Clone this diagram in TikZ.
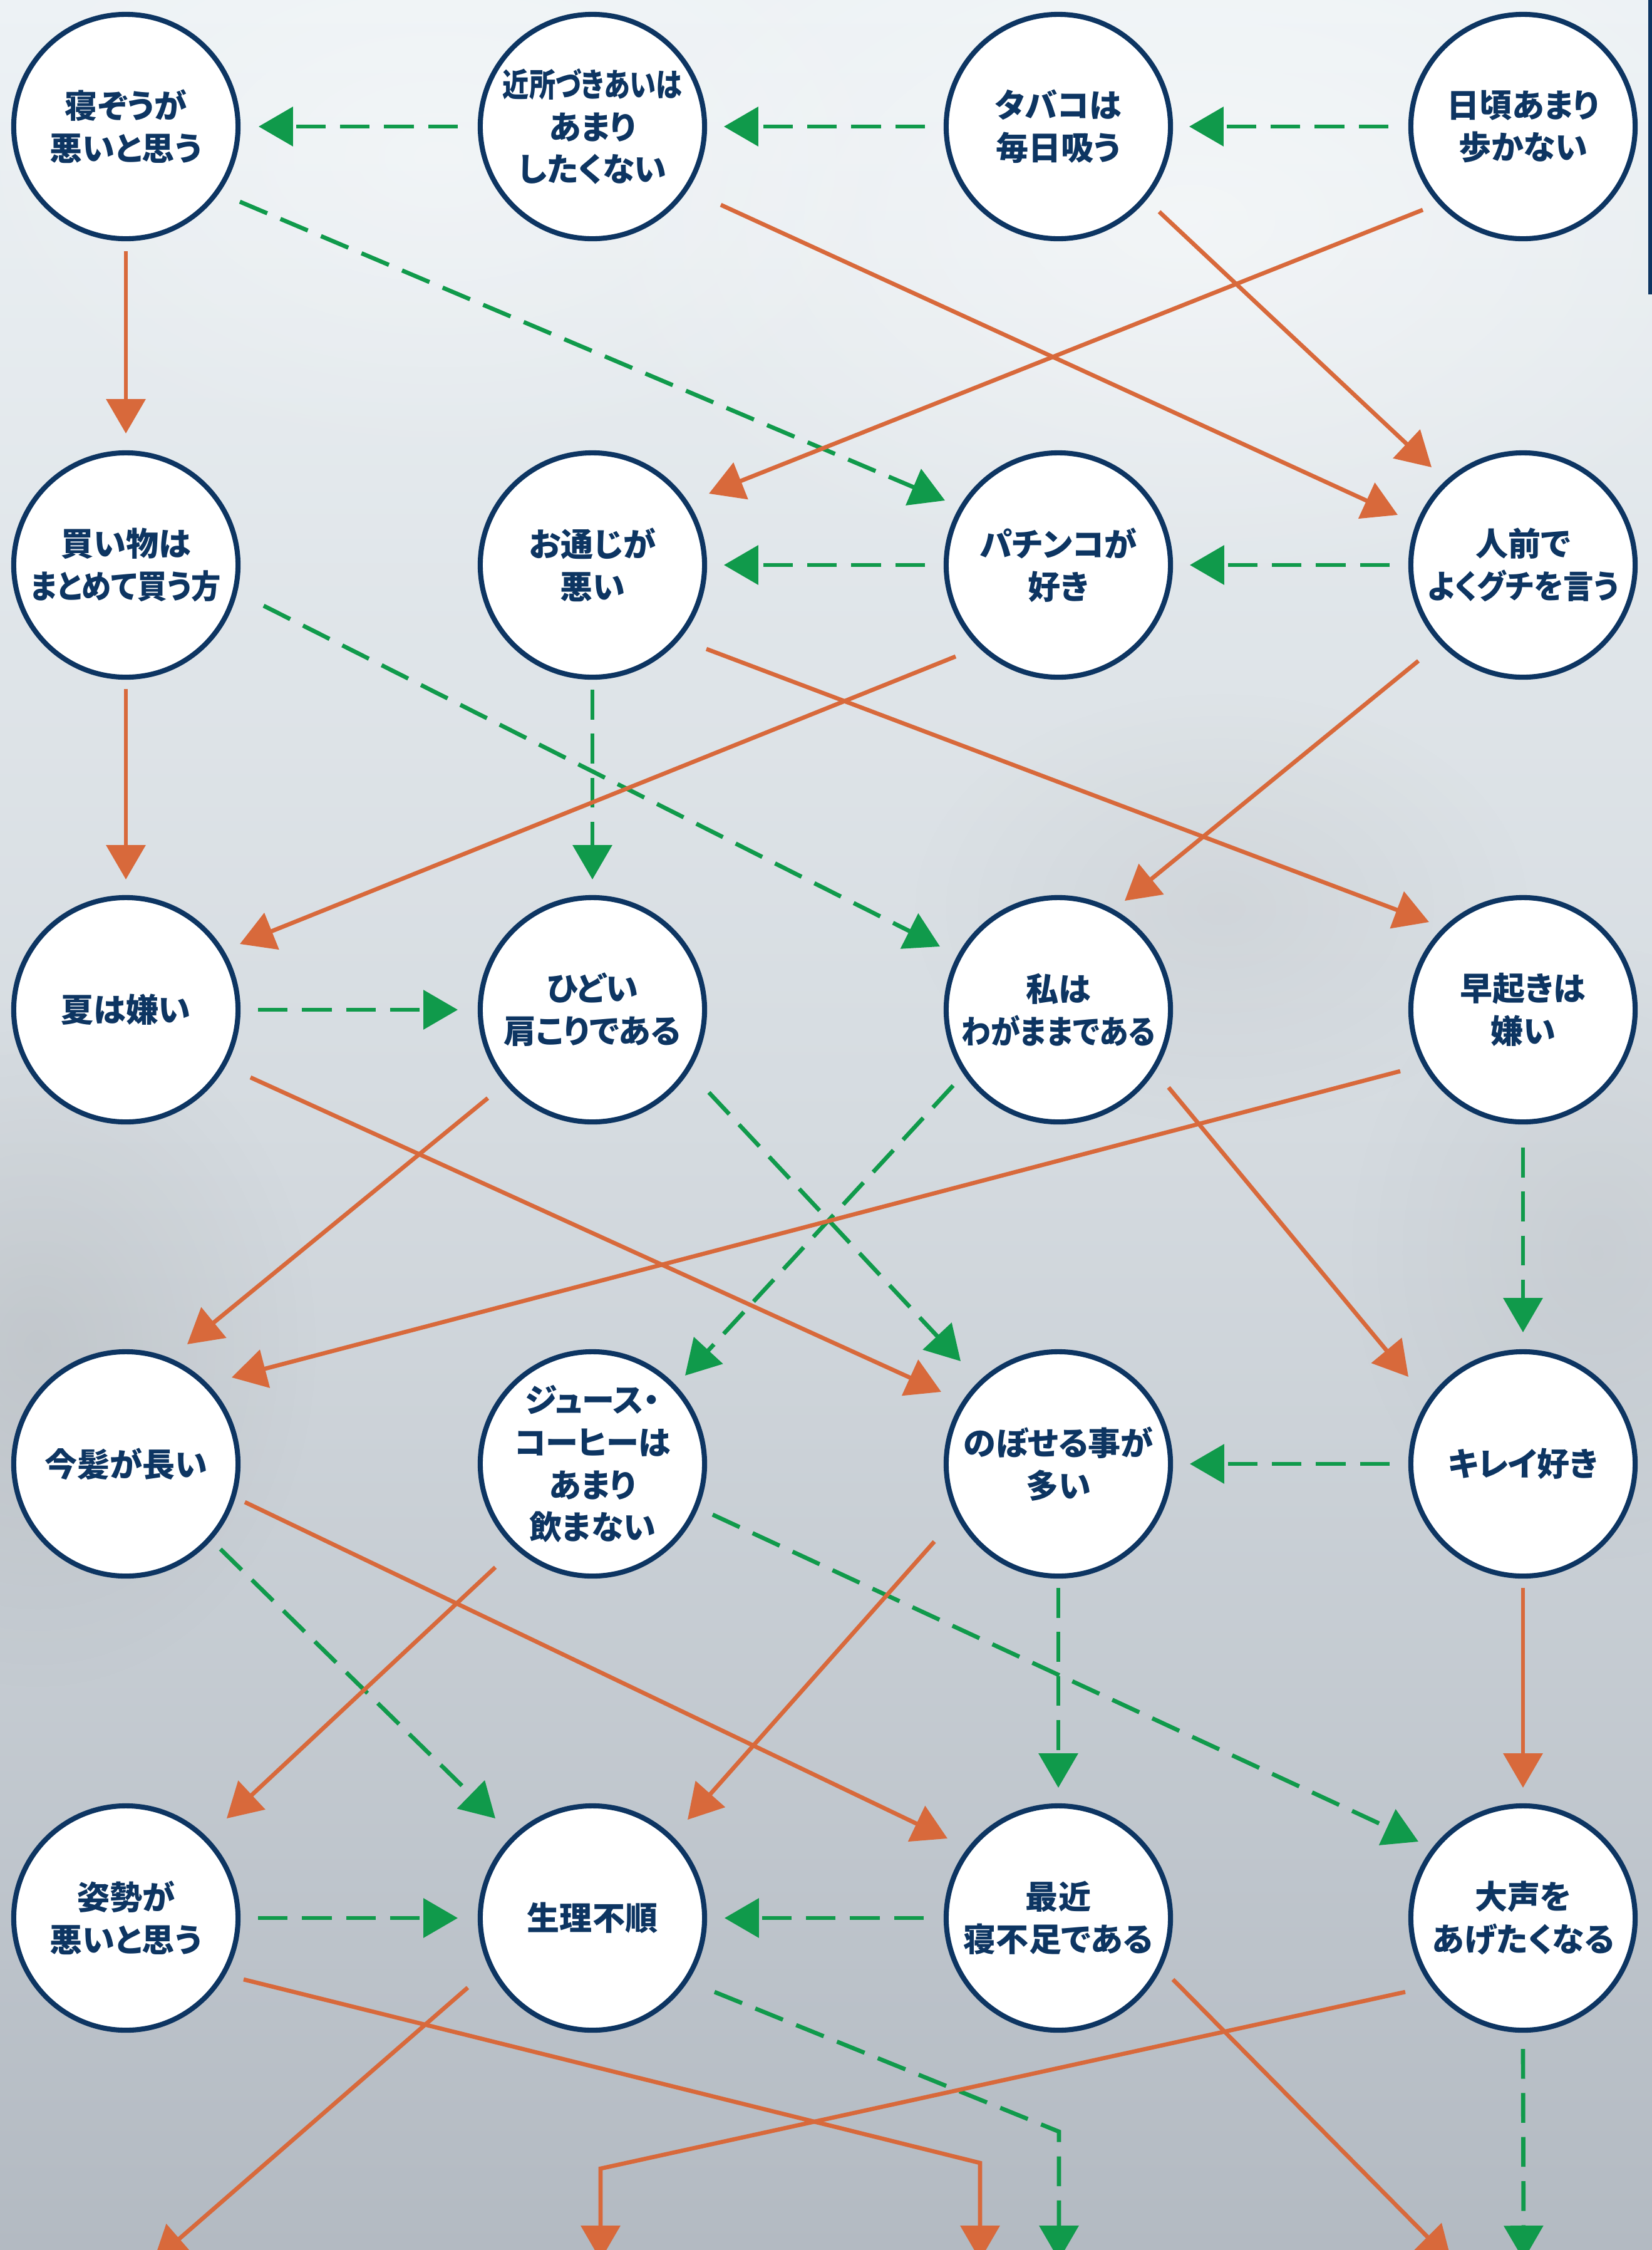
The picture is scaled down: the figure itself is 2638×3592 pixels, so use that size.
\documentclass[tikz,border=0pt]{standalone}
\usepackage{fontspec}
\usepackage{graphicx}
\newfontfamily\jp{Noto Sans CJK JP}[RawFeature=+palt]
\usetikzlibrary{arrows.meta,calc,fadings}
\definecolor{navy}{HTML}{0D3562}
\definecolor{oline}{HTML}{D8693B}
\definecolor{gline}{HTML}{109A4B}
\definecolor{bgtop}{HTML}{EDF2F5}
\definecolor{bgmid}{HTML}{D5DBE0}
\definecolor{bgbot}{HTML}{B3BAC2}
\newcommand{\sqz}[2]{\scalebox{#1}[1]{#2}}
\tikzfading[name=softspot, inner color=transparent!0, outer color=transparent!100]
\begin{document}
\begin{tikzpicture}[x=0.01cm,y=-0.01cm,
  stnode/.style={circle, draw=navy, line width=2.3pt, fill=white, minimum size=3.58cm, inner sep=0pt, align=center, text=navy, font=\jp\bfseries\fontsize{14.8pt}{19.3pt}\selectfont},
  oarrow/.style={draw=oline, line width=1.9pt, -{Triangle[length=15.6pt,width=17.6pt]}},
  garrow/.style={draw=gline, line width=1.9pt, dash pattern=on 13.5pt off 6.5pt, -{Triangle[length=15.6pt,width=17.6pt]}},
  blob/.style={path fading=softspot},
]
\useasboundingbox (0,0) rectangle (2638,3592);
\clip (0,0) rectangle (2638,3592);
\shade[top color=bgtop, bottom color=bgbot, middle color=bgmid] (0,0) rectangle (2638,3592);
% soft cloud patches
\fill[white, opacity=0.45, blob] (1900,350) ellipse (1000 and 600);
\fill[white, opacity=0.35, blob] (700,250) ellipse (800 and 500);
\fill[black!60, opacity=0.12, blob] (60,2150) ellipse (450 and 550);
\fill[black!60, opacity=0.08, blob] (1950,1450) ellipse (500 and 350);
\fill[black!60, opacity=0.08, blob] (2550,2000) ellipse (400 and 500);
\fill[navy] (2632,0) rectangle (2638,470);

% nodes
\node[stnode] (A1) at (201,202) {寝ぞうが\\悪いと思う};
\node[stnode] (A2) at (946,202) {\sqz{0.81}{近所づきあいは}\\あまり\\したくない};
\node[stnode] (A3) at (1690,202) {タバコは\\毎日吸う};
\node[stnode] (A4) at (2432,202) {日頃あまり\\歩かない};
\node[stnode] (B1) at (201,902) {買い物は\\\sqz{0.91}{まとめて買う方}};
\node[stnode] (B2) at (946,902) {お通じが\\悪い};
\node[stnode] (B3) at (1690,902) {パチンコが\\好き};
\node[stnode] (B4) at (2432,902) {人前で\\\sqz{0.93}{よくグチを言う}};
\node[stnode] (C1) at (201,1612) {夏は嫌い};
\node[stnode] (C2) at (946,1612) {ひどい\\肩こりである};
\node[stnode] (C3) at (1690,1612) {私は\\\sqz{0.9}{わがままである}};
\node[stnode] (C4) at (2432,1612) {早起きは\\嫌い};
\node[stnode] (D1) at (201,2337) {今髪が長い};
\node[stnode] (D2) at (946,2337) {ジュース・\\コーヒーは\\あまり\\飲まない};
\node[stnode] (D3) at (1690,2337) {のぼせる事が\\多い};
\node[stnode] (D4) at (2432,2337) {キレイ好き};
\node[stnode] (E1) at (201,3062) {姿勢が\\悪いと思う};
\node[stnode] (E2) at (946,3062) {生理不順};
\node[stnode] (E3) at (1690,3062) {最近\\寝不足である};
\node[stnode] (E4) at (2432,3062) {大声を\\あげたくなる};

% free ends at the bottom edge
\coordinate (k1) at (1565,3453);
\coordinate (f1) at (1565,3608);
\coordinate (f2) at (245,3610);
\coordinate (k3) at (1691,3403);
\coordinate (f3) at (1691,3608);
\coordinate (f4) at (2318,3610);
\coordinate (k5) at (959,3462);
\coordinate (f5) at (959,3608);
\coordinate (f6) at (2433,3608);

% green dashed horizontal
\draw[garrow] ($(A2)+(-215,0)$) -- ($(A1)+(212,0)$);
\draw[garrow] ($(A3)+(-213,0)$) -- ($(A2)+(210,0)$);
\draw[garrow] ($(A4)+(-215,0)$) -- ($(A3)+(209,0)$);
\draw[garrow] ($(B3)+(-213,0)$) -- ($(B2)+(210,0)$);
\draw[garrow] ($(B4)+(-213,0)$) -- ($(B3)+(210,0)$);
\draw[garrow] ($(C1)+(211,0)$) -- ($(C2)+(-215,0)$);
\draw[garrow] ($(D4)+(-213,0)$) -- ($(D3)+(210,0)$);
\draw[garrow] ($(E1)+(211,0)$) -- ($(E2)+(-215,0)$);
\draw[garrow] ($(E3)+(-215,0)$) -- ($(E2)+(211,0)$);
% green dashed vertical
\draw[garrow] ($(B2)+(0,199)$) -- ($(C2)+(0,-208)$);
\draw[garrow] ($(C4)+(0,220)$) -- ($(D4)+(0,-210)$);
\draw[garrow] ($(D3)+(0,198)$) -- ($(E3)+(0,-208)$);
\draw[garrow] ($(E4)+(0,209)$) -- (f6);
% green dashed diagonal
\draw[garrow] ($(A1)+(182,120)$) -- ($(B3)+(-181,-103)$);
\draw[garrow] ($(B1)+(220,65)$) -- ($(C3)+(-189,-101)$);
\draw[garrow] ($(C2)+(186,132)$) -- ($(D3)+(-156,-164)$);
\draw[garrow] ($(C3)+(-168,121)$) -- ($(D2)+(148,-141)$);
\draw[garrow] ($(D1)+(151,136)$) -- ($(E2)+(-155,-159)$);
\draw[garrow] ($(D2)+(192,81)$) -- ($(E4)+(-167,-122)$);
\draw[garrow] ($(E2)+(195,118)$) -- (k3) -- (f3);

% orange vertical
\draw[oarrow] ($(A1)+(0,199)$) -- ($(B1)+(0,-210)$);
\draw[oarrow] ($(B1)+(0,198)$) -- ($(C1)+(0,-208)$);
\draw[oarrow] ($(D4)+(0,198)$) -- ($(E4)+(0,-208)$);
% orange diagonal
\draw[oarrow] ($(A2)+(205,125)$) -- ($(B4)+(-200,-80)$);
\draw[oarrow] ($(A3)+(161,136)$) -- ($(B4)+(-146,-156)$);
\draw[oarrow] ($(A4)+(-160,133)$) -- ($(B2)+(186,-114)$);
\draw[oarrow] ($(B2)+(182,134)$) -- ($(C4)+(-150,-140)$);
\draw[oarrow] ($(B3)+(-164,146)$) -- ($(C1)+(182,-105)$);
\draw[oarrow] ($(B4)+(-167,153)$) -- ($(C3)+(106,-174)$);
\draw[oarrow] ($(C1)+(199,108)$) -- ($(D3)+(-187,-115)$);
\draw[oarrow] ($(C2)+(-167,141)$) -- ($(D1)+(98,-191)$);
\draw[oarrow] ($(C3)+(176,124)$) -- ($(D4)+(-183,-139)$);
\draw[oarrow] ($(C4)+(-196,98)$) -- ($(D1)+(169,-138)$);
\draw[oarrow] ($(D1)+(190,61)$) -- ($(E3)+(-177,-127)$);
\draw[oarrow] ($(D2)+(-155,165)$) -- ($(E1)+(161,-159)$);
\draw[oarrow] ($(D3)+(-198,124)$) -- ($(E2)+(152,-157)$);
\draw[oarrow] ($(E1)+(188,98)$) -- (k1) -- (f1);
\draw[oarrow] ($(E2)+(-199,111)$) -- (f2);
\draw[oarrow] ($(E3)+(183,98)$) -- (f4);
\draw[oarrow] ($(E4)+(-188,118)$) -- (k5) -- (f5);
\end{tikzpicture}
\end{document}
